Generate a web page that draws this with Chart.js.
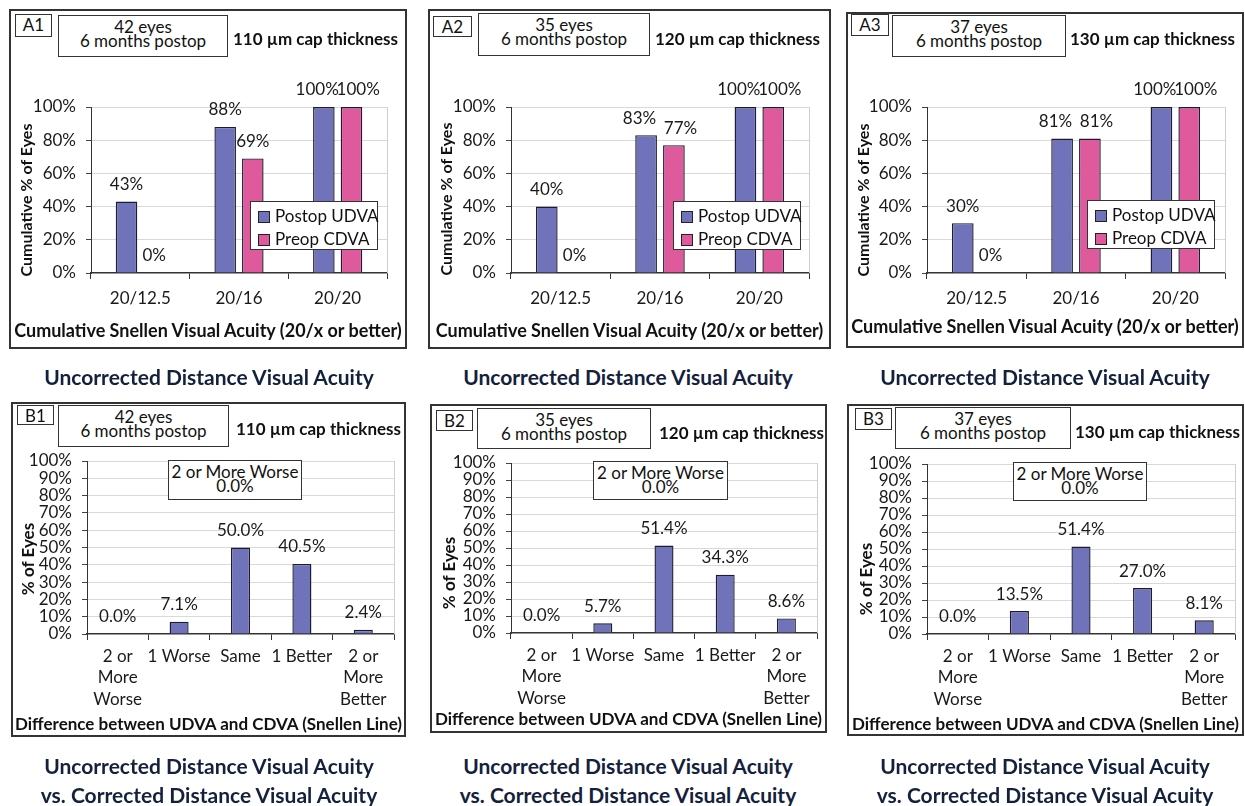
<!DOCTYPE html>
<html>
<head>
<meta charset="utf-8">
<script src="https://cdn.jsdelivr.net/npm/chart.js@4.4.1/dist/chart.umd.min.js"></script>
<style>
  body { margin: 0; width: 1245px; height: 806px; background: #fff; position: relative; overflow: hidden; font-family: Lato, sans-serif; color: #111; }
  .panel { position: absolute; }
  .panel canvas { position: absolute; left: 0; top: 0; }
  .frame { position: absolute; left: 0; top: 0; right: 0; bottom: 0; border: 2px solid #333; box-sizing: border-box; pointer-events: none; }
  .box { position: absolute; border: 1.5px solid #333; box-sizing: border-box; background: #fff; }
  .tag { font-size: 17px; text-align: center; line-height: 19px; }
  .info { font-size: 17px; text-align: center; line-height: 14px; padding-top: 4px; }
  .cap { position: absolute; font-size: 17px; font-weight: bold; white-space: nowrap; transform: translateY(-50%); }
  .xtitle { position: absolute; font-weight: bold; white-space: nowrap; transform: translate(-50%, -50%); color: #111; }
  .ytitle { position: absolute; font-weight: bold; white-space: nowrap; transform: translate(-50%, -50%) rotate(-90deg); color: #111; }
  .note { font-size: 17px; text-align: center; line-height: 14px; padding-top: 4px; }
  .legend { position: absolute; width: 128px; height: 49px; border: 1.5px solid #333; box-sizing: border-box; background: #fff; font-size: 17px; padding: 2px 0 0 7px; }
  .legend div { height: 23px; line-height: 23px; white-space: nowrap; }
  .legend span { display: inline-block; width: 10px; height: 10px; border: 1.5px solid #222; margin-right: 5px; vertical-align: -1px; }
  .title { position: absolute; font-size: 21px; font-weight: bold; color: #14213d; text-align: center; white-space: nowrap; transform: translate(-50%, -50%); line-height: 29px; }
</style>
</head>
<body>
<script>
// ---- data ----
const acuityCategories = ['20/12.5', '20/16', '20/20'];
const a1PostopUdva = [43, 88, 100];
const a1PreopCdva = [0, 69, 100];
const a2PostopUdva = [40, 83, 100];
const a2PreopCdva = [0, 77, 100];
const a3PostopUdva = [30, 81, 100];
const a3PreopCdva = [0, 81, 100];

const lineCategories = [['2 or', 'More', 'Worse'], '1 Worse', 'Same', '1 Better', ['2 or', 'More', 'Better']];
const b1Eyes = [0.0, 7.1, 50.0, 40.5, 2.4];
const b2Eyes = [0.0, 5.7, 51.4, 34.3, 8.6];
const b3Eyes = [0.0, 13.5, 51.4, 27.0, 8.1];

const eyeCounts = [42, 35, 37];
const capThickness = [110, 120, 130];
const seriesNames = ['Postop UDVA', 'Preop CDVA'];

const blue = '#7073BA';
const pink = '#DE5A9C';

// ---- layout of the six boxes ----
const panels = [
  { id: 'A1', x: 9, y: 9, w: 398, h: 340, plot: [82, 98, 378, 264], xt: 321, yt: [16, 191], tag: [6, 5, 37, 23], info: [49, 6, 170, 42], cap: [224, 29], legend: [241, 192] },
  { id: 'A2', x: 428, y: 9, w: 403, h: 340, plot: [83, 98, 381, 264], xt: 321, yt: [17, 190], tag: [5, 7, 39, 21], info: [50, 4, 172, 43], cap: [227, 29], legend: [245, 192] },
  { id: 'A3', x: 846, y: 12, w: 398, h: 336, plot: [81, 95, 379, 261], xt: 314, yt: [16, 188], tag: [5, 2, 38, 22], info: [46, 3, 174, 42], cap: [224, 26], legend: [241, 188] },
  { id: 'B1', x: 11, y: 402, w: 395, h: 335, plot: [76, 59, 383, 232], xt: 321, yt: [16, 157], tag: [6, 3, 37, 20], info: [47, 3, 171, 42], cap: [225, 26], note: [157, 58, 134, 40] },
  { id: 'B2', x: 430, y: 404, w: 397, h: 329, plot: [81, 59, 387, 229], xt: 314, yt: [18, 169], tag: [6, 6, 37, 21], info: [47, 4, 174, 41], cap: [229, 28], note: [163, 57, 135, 39] },
  { id: 'B3', x: 847, y: 404, w: 397, h: 332, plot: [80, 60, 388, 230], xt: 319, yt: [18, 175], tag: [8, 4, 37, 22], info: [48, 3, 176, 42], cap: [228, 27], note: [166, 58, 134, 39] }
];

Chart.defaults.font.family = 'Lato';
Chart.defaults.color = '#1a1a1a';

// value labels above the bars (two labels of one category are pushed apart if they collide)
const barLabels = {
  id: 'barLabels',
  afterDatasetsDraw(chart, args, opts) {
    const ctx = chart.ctx;
    const groups = {};
    chart.data.datasets.forEach((ds, i) => {
      chart.getDatasetMeta(i).data.forEach((bar, j) => {
        (groups[j] = groups[j] || []).push({ x: bar.x, y: bar.y - 17, text: ds.data[j].toFixed(opts.decimals) + '%' });
      });
    });
    ctx.save();
    ctx.font = '17px Lato';
    ctx.fillStyle = '#1a1a1a';
    ctx.textAlign = 'center';
    ctx.textBaseline = 'middle';
    Object.values(groups).forEach(g => {
      if (g.length === 2 && Math.abs(g[0].y - g[1].y) < 18 && g[1].x - g[0].x < opts.spread) {
        const mid = (g[0].x + g[1].x) / 2;
        g[0].x = mid - opts.spread / 2;
        g[1].x = mid + opts.spread / 2;
      }
      g.forEach(l => ctx.fillText(l.text, l.x, l.y));
    });
    ctx.restore();
  }
};

// light grey line on the right of the plot
const plotFrame = {
  id: 'plotFrame',
  beforeDatasetsDraw(chart) {
    const { ctx, chartArea: a } = chart;
    ctx.save();
    ctx.strokeStyle = '#cfcfcf';
    ctx.lineWidth = 1;
    ctx.beginPath();
    ctx.moveTo(Math.round(a.right) + 0.5, a.top);
    ctx.lineTo(Math.round(a.right) + 0.5, a.bottom);
    ctx.stroke();
    ctx.restore();
  }
};

function addBox(parent, r, cls, html) {
  const d = document.createElement('div');
  d.className = 'box ' + cls;
  d.style.left = r[0] + 'px';
  d.style.top = r[1] + 'px';
  d.style.width = r[2] + 'px';
  d.style.height = r[3] + 'px';
  d.innerHTML = html;
  parent.appendChild(d);
  return d;
}

function addText(parent, cls, x, y, size, text) {
  const d = document.createElement('div');
  d.className = cls;
  d.style.left = x + 'px';
  d.style.top = y + 'px';
  if (size) d.style.fontSize = size + 'px';
  d.textContent = text;
  parent.appendChild(d);
  return d;
}

function makePanel(p, idx, isA, labels, datasets, step, decimals, xTitle, yTitle) {
  const wrap = document.createElement('div');
  wrap.className = 'panel';
  wrap.style.left = p.x + 'px';
  wrap.style.top = p.y + 'px';
  wrap.style.width = p.w + 'px';
  wrap.style.height = p.h + 'px';
  document.body.appendChild(wrap);

  const canvas = document.createElement('canvas');
  canvas.width = p.w;
  canvas.height = p.h;
  wrap.appendChild(canvas);

  const [pl, pt, pr, pb] = p.plot;

  new Chart(canvas, {
    type: 'bar',
    data: { labels: labels, datasets: datasets },
    options: {
      responsive: false,
      animation: false,
      layout: { padding: { left: 0, top: pt, right: p.w - pr, bottom: 0 } },
      plugins: {
        legend: { display: false },
        tooltip: { enabled: false },
        barLabels: { decimals: decimals, spread: 41 }
      },
      scales: {
        x: {
          offset: true,
          afterFit: s => { s.height = p.h - pb; },
          grid: { display: true, offset: true, drawOnChartArea: false, drawTicks: true, tickLength: 6, tickColor: '#333' },
          border: { color: '#333', width: 1.5 },
          ticks: { autoSkip: false, maxRotation: 0, padding: isA ? 9 : 6, font: { size: 17, lineHeight: 1.25 }, color: '#1a1a1a' },
          title: { display: false }
        },
        y: {
          min: 0,
          max: 100,
          afterFit: s => { s.width = pl; },
          grid: {
            color: c => (c.tick && c.tick.value === 0) ? 'rgba(0,0,0,0)' : '#d9d9d9',
            tickColor: '#444',
            tickLength: 5
          },
          border: { color: '#333', width: 1 },
          ticks: { stepSize: step, autoSkip: false, padding: 10, font: { size: 17, lineHeight: 1 }, color: '#1a1a1a', callback: v => v + '%' },
          title: { display: false }
        }
      }
    },
    plugins: [plotFrame, barLabels]
  });

  const frame = document.createElement('div');
  frame.className = 'frame';
  wrap.appendChild(frame);

  addText(wrap, 'xtitle', p.w / 2, p.xt, isA ? 18 : 17, xTitle);
  addText(wrap, 'ytitle', p.yt[0], p.yt[1], isA ? 16 : 17, yTitle);

  addBox(wrap, p.tag, 'tag', p.id);
  addBox(wrap, p.info, 'info', eyeCounts[idx] + ' eyes<br>6 months postop');
  addText(wrap, 'cap', p.cap[0], p.cap[1], 0, capThickness[idx] + ' \u00b5m cap thickness');

  if (p.legend) {
    const lg = document.createElement('div');
    lg.className = 'legend';
    lg.style.left = p.legend[0] + 'px';
    lg.style.top = p.legend[1] + 'px';
    lg.innerHTML = datasets.map(d => `<div><span style="background:${d.backgroundColor}"></span>${d.label}</div>`).join('');
    wrap.appendChild(lg);
  }
  if (p.note) {
    addBox(wrap, p.note, 'note', '2 or More Worse<br>' + datasets[0].data[0].toFixed(1) + '%');
  }
}

function acuitySets(udva, cdva) {
  return [
    { label: seriesNames[0], data: udva, backgroundColor: blue, borderColor: '#1c1c30', borderWidth: 1.4, borderSkipped: 'bottom', categoryPercentage: 0.56, barPercentage: 0.78 },
    { label: seriesNames[1], data: cdva, backgroundColor: pink, borderColor: '#1c1c30', borderWidth: 1.4, borderSkipped: 'bottom', categoryPercentage: 0.56, barPercentage: 0.78 }
  ];
}
function lineSets(vals) {
  return [{ label: '% of Eyes', data: vals, backgroundColor: blue, borderColor: '#1c1c30', borderWidth: 1.4, borderSkipped: 'bottom', categoryPercentage: 1, barPercentage: 0.31 }];
}

const aX = 'Cumulative Snellen Visual Acuity (20/x or better)';
const bX = 'Difference between UDVA and CDVA (Snellen Line)';
makePanel(panels[0], 0, true, acuityCategories, acuitySets(a1PostopUdva, a1PreopCdva), 20, 0, aX, 'Cumulative % of Eyes');
makePanel(panels[1], 1, true, acuityCategories, acuitySets(a2PostopUdva, a2PreopCdva), 20, 0, aX, 'Cumulative % of Eyes');
makePanel(panels[2], 2, true, acuityCategories, acuitySets(a3PostopUdva, a3PreopCdva), 20, 0, aX, 'Cumulative % of Eyes');
makePanel(panels[3], 0, false, lineCategories, lineSets(b1Eyes), 10, 1, bX, '% of Eyes');
makePanel(panels[4], 1, false, lineCategories, lineSets(b2Eyes), 10, 1, bX, '% of Eyes');
makePanel(panels[5], 2, false, lineCategories, lineSets(b3Eyes), 10, 1, bX, '% of Eyes');

// captions under each column
const captionX = [209, 628, 1045];
captionX.forEach(cx => {
  const t1 = document.createElement('div');
  t1.className = 'title';
  t1.style.left = cx + 'px';
  t1.style.top = '376px';
  t1.textContent = 'Uncorrected Distance Visual Acuity';
  document.body.appendChild(t1);
  const t2 = document.createElement('div');
  t2.className = 'title';
  t2.style.left = cx + 'px';
  t2.style.top = '780px';
  t2.innerHTML = 'Uncorrected Distance Visual Acuity<br>vs. Corrected Distance Visual Acuity';
  document.body.appendChild(t2);
});
</script>
</body>
</html>
